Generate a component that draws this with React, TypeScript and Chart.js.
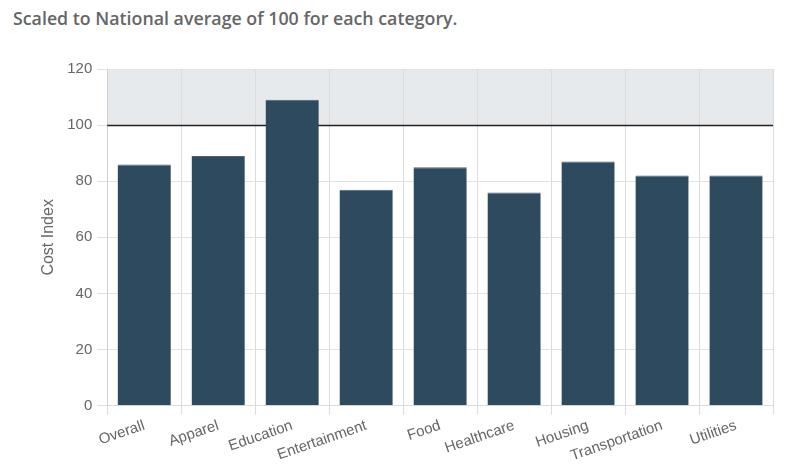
import React, { useEffect, useRef } from "react";
import { Chart, registerables } from "chart.js";

Chart.register(...registerables);

const categories = ["Overall", "Apparel", "Education", "Entertainment", "Food", "Healthcare", "Housing", "Transportation", "Utilities"];
const costIndex = [86, 89, 109, 77, 85, 76, 87, 82, 82];
const nationalAverage = 100;
const yMin = 0;
const yMax = 120;
const yStep = 20;

const bandPlugin = {
  id: "band",
  beforeDraw(chart: any) {
    const { ctx, chartArea, scales } = chart;
    const y = scales.y;
    const top = y.getPixelForValue(yMax);
    const bottom = y.getPixelForValue(nationalAverage);
    ctx.save();
    ctx.fillStyle = "#e7eaed";
    ctx.fillRect(chartArea.left, top, chartArea.right - chartArea.left, bottom - top);
    ctx.restore();
  },
  beforeDatasetsDraw(chart: any) {
    const { ctx, chartArea, scales } = chart;
    const yy = Math.round(scales.y.getPixelForValue(nationalAverage)) + 0.5;
    ctx.save();
    ctx.strokeStyle = "#222";
    ctx.lineWidth = 1.5;
    ctx.beginPath();
    ctx.moveTo(chartArea.left, yy);
    ctx.lineTo(chartArea.right, yy);
    ctx.stroke();
    ctx.restore();
  },
};

export default function App() {
  const ref = useRef<HTMLCanvasElement>(null);
  useEffect(() => {
    if (!ref.current) return;
    const chart = new Chart(ref.current, {
      type: "bar",
      data: {
        labels: categories,
        datasets: [
          {
            data: costIndex,
            backgroundColor: "#2e4a5e",
            borderColor: "#4c6172",
            borderWidth: { top: 1, left: 0, right: 0, bottom: 0 },
            borderSkipped: "start",
            barPercentage: 0.72,
            categoryPercentage: 1,
          },
        ],
      },
      options: {
        animation: false,
        responsive: true,
        maintainAspectRatio: false,
        layout: { padding: { left: 6, right: 14, top: 10, bottom: 0 } },
        plugins: { legend: { display: false }, tooltip: { enabled: false } },
        scales: {
          x: {
            grid: { color: "#dcdcdc", offset: true, tickLength: 9, drawTicks: true },
            border: { color: "#dcdcdc" },
            ticks: {
              color: "#666",
              font: { family: "Liberation Sans", size: 15 },
              minRotation: 19,
              maxRotation: 19,
              autoSkip: false,
              padding: 2,
            },
          },
          y: {
            min: yMin,
            max: yMax,
            grid: { color: "#e2e2e2", tickLength: 10 },
            border: { color: "#d0d0d0" },
            ticks: {
              stepSize: yStep,
              color: "#666",
              font: { family: "Liberation Sans", size: 15 },
              padding: 5,
            },
            title: {
              display: true,
              text: "Cost Index",
              color: "#666",
              font: { family: "Liberation Sans", size: 16 },
              padding: { top: 0, bottom: 4 },
            },
          },
        },
      },
      plugins: [bandPlugin],
    });
    return () => chart.destroy();
  }, []);

  return (
    <div style={{ position: "absolute", left: 0, top: 0, width: 804, height: 474, background: "#fff" }}>
      <div
        style={{
          position: "absolute",
          left: 13,
          top: 6,
          fontFamily: "'Open Sans', sans-serif",
          fontWeight: 600,
          fontSize: 17.8,
          color: "#666",
          whiteSpace: "nowrap",
        }}
      >
        Scaled to National average of 100 for each category.
      </div>
      <div style={{ position: "absolute", left: 33, top: 55, width: 754, height: 412 }}>
        <canvas ref={ref} />
      </div>
    </div>
  );
}
